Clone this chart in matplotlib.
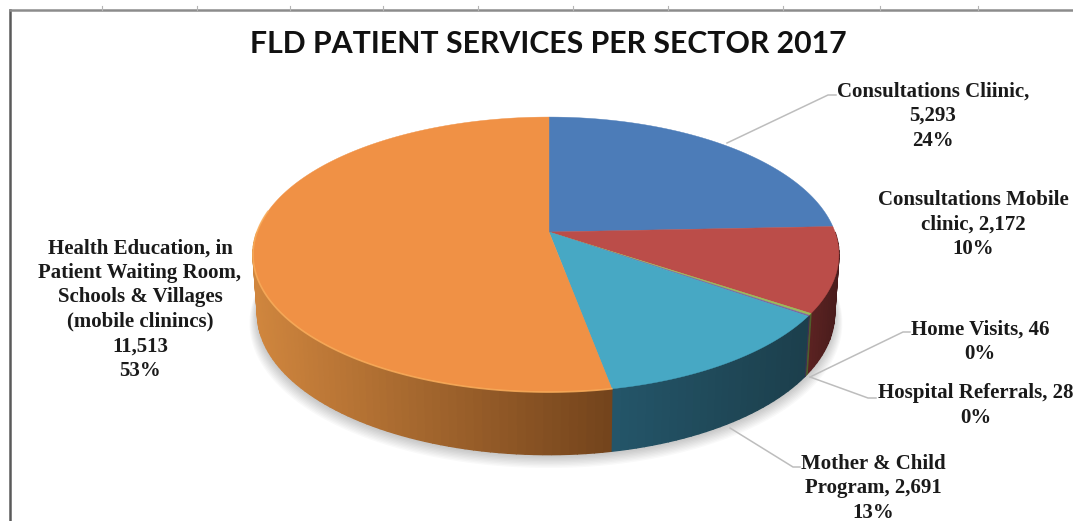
import numpy as np
import matplotlib
matplotlib.use("Agg")
import matplotlib.pyplot as plt

# chart data
values = [5293, 2172, 46, 28, 2691, 11513]
percents = ["24%", "10%", "0%", "0%", "13%", "53%"]
label_heads = [
    "Consultations Cliinic,\n",
    "Consultations Mobile\nclinic, ",
    "Home Visits, ",
    "Hospital Referrals, ",
    "Mother & Child\nProgram, ",
    "Health Education, in\nPatient Waiting Room,\nSchools & Villages\n(mobile clinincs)\n",
]
title = "FLD PATIENT SERVICES PER SECTOR 2017"

top_colors = ["#4c7cb8", "#bb4d49", "#9bbb59", "#8064a2", "#47a8c4", "#f09145"]
side_left = ["#3a5f8c", "#5c2322", "#4f5f2c", "#403251", "#24566a", "#d0863e"]
side_right = ["#2f4f75", "#4a1c1c", "#4f5f2c", "#403251", "#1c3f4c", "#74441c"]

label_xy = [(933, 116), (973, 224.5), (980, 341.5), (976, 405.5), (873, 488.5), (140, 309.5)]
leaders = [
    [(727, 143), (828, 95), (836, 95)],
    [],
    [(810, 377), (903, 332), (910, 332)],
    [(810, 377), (868, 398), (876, 398)],
    [(730, 428), (793, 467), (800, 467)],
    [],
]

# pie geometry in picture pixels
cx, cy = 549, 232
rad_right, rad_left = 286, 292
rad_y = 133.8
persp = 0.164
depth = 58
depth_front = 7


def project(t, drop=False, scale=1.0, extra=0.0):
    # t runs clockwise from 12 o'clock, far edge of the disc is smaller
    w = 1 + persp * np.cos(t)
    rad_x = np.where(np.sin(t) >= 0, rad_right, rad_left)
    x = cx + scale * rad_x * np.sin(t) / w
    y = cy - scale * rad_y * np.cos(t) / w
    if drop:
        y = y + depth + extra - depth_front * np.cos(t)
    return x, y


def mix(c1, c2, f):
    a = np.array(matplotlib.colors.to_rgb(c1))
    b = np.array(matplotlib.colors.to_rgb(c2))
    return tuple(a + (b - a) * f)


fig = plt.figure(figsize=(10.73, 5.21), dpi=100)
ax = fig.add_axes([0, 0, 1, 1])
ax.set_xlim(0, 1073)
ax.set_ylim(521, 0)
ax.axis("off")

# sheet border with the ruler ticks on top
ax.plot([10, 10], [521, 10], color="#5a5a5a", lw=1.8)
ax.plot([10, 1073], [10, 10], color="#8c8c8c", lw=1.8)
for tx in [102, 197, 290, 383, 478, 573, 668, 783, 880, 978]:
    ax.plot([tx, tx], [6, 10], color="#b5b5b5", lw=0.8)

fractions = np.array(values) / sum(values)
edges = np.concatenate([[0], np.cumsum(fractions)]) * 2 * np.pi

# soft shadow under the disc
circle = np.linspace(np.pi * 0.45, np.pi * 1.55, 200)
for i in range(10):
    sx, sy = project(circle, drop=True, scale=0.985 + i * 0.003, extra=1 + i * 0.9)
    ax.fill(sx, sy, color="#000000", alpha=0.022, lw=0)

# side walls, right side first so the front one covers it
for i in range(len(values)):
    t0, t1 = edges[i], edges[i + 1]
    if t1 <= np.pi * 0.5 or t0 >= np.pi * 1.5:
        continue
    t0, t1 = max(t0, np.pi * 0.5), min(t1, np.pi * 1.5)
    ts = np.linspace(t0, t1, max(3, int((t1 - t0) * 40)))
    x_all = project(ts)[0]
    for j in range(len(ts) - 1):
        seg = ts[j:j + 2]
        xt, yt = project(seg)
        xb, yb = project(seg[::-1], drop=True, scale=0.985)
        f = (x_all[j] - x_all.min()) / max(x_all.max() - x_all.min(), 1)
        ax.fill(np.r_[xt, xb], np.r_[yt, yb], color=mix(side_left[i], side_right[i], f), lw=1.0)

# top of the disc
for i in range(len(values)):
    ts = np.linspace(edges[i], edges[i + 1], max(3, int((edges[i + 1] - edges[i]) * 80)))
    xt, yt = project(ts)
    ax.fill(np.r_[cx, xt], np.r_[cy, yt], color=top_colors[i], lw=0.3)

# light rim along the front of the orange slice
rim = np.linspace(edges[5], np.pi * 1.55, 120)
ax.plot(*project(rim), color="#f9ae5c", lw=1.2, alpha=0.8)

for pts in leaders:
    if pts:
        ax.plot([p[0] for p in pts], [p[1] for p in pts], color="#bdbdbd", lw=1.1)

ax.text(548, 44, title, ha="center", va="center", family="Lato", weight="bold",
        fontsize=21.75, color="#111111")

for k in range(len(values)):
    lx, ly = label_xy[k]
    ax.text(lx, ly, f"{label_heads[k]}{values[k]:,}\n{percents[k]}", ha="center", va="center",
            family="Liberation Serif", weight="bold", fontsize=15,
            linespacing=1.3, color="#1a1a1a", clip_on=True)

fig.savefig("out.png", dpi=100)
